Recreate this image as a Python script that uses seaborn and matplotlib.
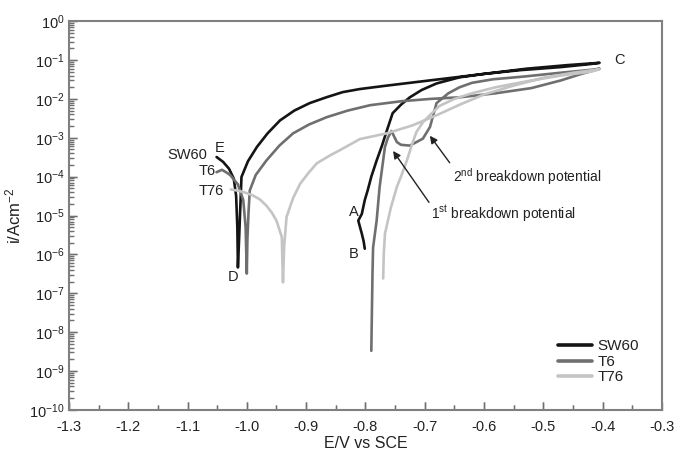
import numpy as np
import pandas as pd
import matplotlib
matplotlib.use("Agg")
import matplotlib.pyplot as plt
import matplotlib.ticker as mticker
from matplotlib.lines import Line2D
from matplotlib.collections import LineCollection
import seaborn as sns

# ---------------- data (E in V vs SCE, i in A/cm^2) ----------------
sw60_E = [-1.051, -1.040, -1.030, -1.022, -1.018, -1.016, -1.015, -1.013, -1.011, -1.009,
          -0.998, -0.983, -0.965, -0.944, -0.920, -0.894, -0.866, -0.838, -0.809, -0.764,
          -0.691, -0.641, -0.580, -0.528, -0.460, -0.405,
          -0.420, -0.470, -0.539, -0.600, -0.641, -0.680, -0.705, -0.725, -0.740, -0.754,
          -0.764, -0.772, -0.781, -0.790, -0.796, -0.801, -0.806, -0.812, -0.809, -0.806,
          -0.803, -0.801]
sw60_i = [3.2e-4, 2.4e-4, 1.6e-4, 8.9e-5, 3.2e-5, 5.0e-6, 4.6e-7, 2.5e-6, 1.6e-5, 9.8e-5,
          2.5e-4, 5.8e-4, 1.3e-3, 2.8e-3, 5.0e-3, 7.8e-3, 1.1e-2, 1.5e-2, 1.8e-2, 2.2e-2,
          3.0e-2, 3.7e-2, 4.8e-2, 6.0e-2, 7.4e-2, 8.5e-2,
          7.9e-2, 6.6e-2, 5.5e-2, 4.4e-2, 3.6e-2, 2.5e-2, 1.7e-2, 1.1e-2, 7.1e-3, 4.3e-3,
          1.5e-3, 6.3e-4, 2.6e-4, 1.0e-4, 4.5e-5, 2.5e-5, 1.1e-5, 7.4e-6, 5.0e-6, 3.4e-6,
          2.2e-6, 1.4e-6]

t6_E = [-1.051, -1.042, -1.035, -1.028, -1.015, -1.006, -1.002, -1.000, -0.999, -0.997,
        -0.995, -0.985, -0.967, -0.945, -0.922, -0.895, -0.865, -0.830, -0.792, -0.740,
        -0.691, -0.641, -0.580, -0.520, -0.470, -0.440, -0.405,
        -0.420, -0.472, -0.530, -0.585, -0.620, -0.641, -0.660, -0.680, -0.691, -0.703,
        -0.725, -0.740, -0.747, -0.756, -0.762, -0.767, -0.776, -0.781, -0.787, -0.788,
        -0.790]
t6_i = [1.3e-4, 1.5e-4, 1.3e-4, 1.1e-4, 6.3e-5, 2.5e-5, 5.0e-6, 3.2e-7, 2.5e-6, 1.3e-5,
        4.4e-5, 1.1e-4, 2.6e-4, 6.3e-4, 1.3e-3, 2.2e-3, 3.4e-3, 5.0e-3, 6.9e-3, 8.7e-3,
        1.0e-2, 1.1e-2, 1.4e-2, 1.9e-2, 3.0e-2, 4.2e-2, 6.0e-2,
        5.6e-2, 4.7e-2, 3.8e-2, 3.2e-2, 2.6e-2, 2.0e-2, 1.4e-2, 7.8e-3, 1.9e-3, 9.5e-4,
        6.3e-4, 6.6e-4, 7.8e-4, 1.5e-3, 1.0e-3, 5.8e-4, 5.4e-5, 7.4e-6, 1.5e-6, 3.2e-7,
        3.3e-9]

t76_E = [-1.027, -1.017, -1.005, -0.990, -0.978, -0.967, -0.958, -0.950, -0.941, -0.939,
         -0.937, -0.933, -0.922, -0.910, -0.895, -0.882, -0.860, -0.843, -0.809, -0.764,
         -0.720, -0.680, -0.641, -0.600, -0.550, -0.500, -0.450, -0.405,
         -0.420, -0.470, -0.530, -0.580, -0.620, -0.650, -0.675, -0.690, -0.703, -0.714,
         -0.722, -0.730, -0.740, -0.747, -0.757, -0.767, -0.769, -0.770]
t76_i = [4.7e-5, 4.4e-5, 4.0e-5, 3.3e-5, 2.6e-5, 1.8e-5, 1.2e-5, 7.4e-6, 2.8e-6, 1.9e-7,
         1.6e-6, 9.1e-6, 2.8e-5, 6.6e-5, 1.3e-4, 2.2e-4, 3.5e-4, 4.8e-4, 9.3e-4, 1.3e-3,
         2.1e-3, 3.8e-3, 7.1e-3, 1.3e-2, 2.2e-2, 3.5e-2, 4.7e-2, 5.8e-2,
         5.0e-2, 4.0e-2, 2.8e-2, 2.0e-2, 1.4e-2, 1.0e-2, 6.6e-3, 4.0e-3, 2.5e-3, 1.4e-3,
         6.3e-4, 2.6e-4, 1.0e-4, 5.4e-5, 1.6e-5, 3.4e-6, 1.0e-6, 2.4e-7]

series_names = ["SW60", "T6", "T76"]
x_ticks = [-1.3, -1.2, -1.1, -1.0, -0.9, -0.8, -0.7, -0.6, -0.5, -0.4, -0.3]
x_tick_labels = ["-1.3", "-1.2", "-1.1", "-1.0", "-0.9", "-0.8", "-0.7", "-0.6", "-0.5", "-0.4", "-0.3"]

# ---------------- build table ----------------
frames = []
for name, E, I in [("SW60", sw60_E, sw60_i), ("T6", t6_E, t6_i), ("T76", t76_E, t76_i)]:
    frames.append(pd.DataFrame({"E": E, "i": I, "series": name, "order": range(len(E))}))
df = pd.concat(frames, ignore_index=True)

sns.set_theme(style="ticks")
plt.rcParams["font.family"] = ["Liberation Sans", "DejaVu Sans"]
plt.rcParams["mathtext.fontset"] = "custom"
plt.rcParams["mathtext.rm"] = "Liberation Sans"
plt.rcParams["mathtext.it"] = "Liberation Sans"

fig = plt.figure(figsize=(6.76, 4.61), dpi=100)
ax = fig.add_axes([0.102, 0.111, 0.877, 0.843])

palette = {"SW60": "#141414", "T6": "#6f6f6f", "T76": "#c4c4c4"}
sns.lineplot(data=df, x="E", y="i", hue="series", hue_order=series_names, palette=palette,
             sort=False, estimator=None, linewidth=1.9, ax=ax, legend=False)

ax.set_yscale("log")
ax.set_xlim(-1.3, -0.3)
ax.set_ylim(1e-10, 1)

ax.set_xticks(x_ticks)
ax.set_xticklabels(x_tick_labels)
ax.xaxis.set_minor_locator(mticker.MultipleLocator(0.05))
ax.yaxis.set_major_locator(mticker.LogLocator(base=10, numticks=20))
ax.yaxis.set_minor_locator(mticker.LogLocator(base=10, subs=np.arange(2, 10), numticks=20))
ax.yaxis.set_minor_formatter(mticker.NullFormatter())

for s in ax.spines.values():
    s.set_visible(True)
    s.set_color("#808080")
    s.set_linewidth(1.5)

ax.set_xlabel("E/V vs SCE", fontsize=11.5, color="#222222", labelpad=2)
ax.set_ylabel("i/Acm$^{-2}$", fontsize=12, color="#222222", labelpad=4)
ax.grid(False)

ax.tick_params(axis="both", which="major", direction="in", length=6, width=1.0,
               color="#707070", labelsize=10.5, labelcolor="#222222",
               bottom=True, left=True, top=False, right=False)
ax.tick_params(axis="both", which="minor", direction="in", length=3.5, width=0.9,
               color="#707070", bottom=True, left=True, top=False, right=False)
ax.tick_params(axis="x", which="major", pad=7)
ax.tick_params(axis="y", which="major", pad=3)

# inward tick strokes taken from the axis locators (drawn as segments so they always show)
ax_w_px = 0.877 * 676
ax_h_px = 0.843 * 461
def _inside(vals, lo, hi):
    return [v for v in vals if lo - 1e-12 <= v <= hi + 1e-12]
xmaj = _inside(ax.xaxis.get_majorticklocs(), -1.3, -0.3)
xmin = _inside(ax.xaxis.get_minorticklocs(), -1.3, -0.3)
ymaj = _inside(ax.yaxis.get_majorticklocs(), 1e-10, 1)
ymin = _inside(ax.yaxis.get_minorticklocs(), 1e-10, 1)
seg_x = [[(v, 0), (v, 8 / ax_h_px)] for v in xmaj] + [[(v, 0), (v, 4.5 / ax_h_px)] for v in xmin]
seg_y = [[(0, v), (8 / ax_w_px, v)] for v in ymaj] + [[(0, v), (4.5 / ax_w_px, v)] for v in ymin]
ax.add_collection(LineCollection(seg_x, colors="#707070", linewidths=1.0,
                                 transform=ax.get_xaxis_transform(), zorder=2.5))
ax.add_collection(LineCollection(seg_y, colors="#707070", linewidths=0.9,
                                 transform=ax.get_yaxis_transform(), zorder=2.5))
ax.set_xlim(-1.3, -0.3)
ax.set_ylim(1e-10, 1)

# ---------------- annotations ----------------
tc = "#222222"
ax.text(-1.066, 10**-3.45, "SW60", ha="right", va="center", fontsize=10.5, color=tc)
ax.text(-1.046, 10**-3.25, "E", ha="center", va="center", fontsize=10.5, color=tc)
ax.text(-1.052, 10**-3.86, "T6", ha="right", va="center", fontsize=10.5, color=tc)
ax.text(-1.039, 10**-4.37, "T76", ha="right", va="center", fontsize=10.5, color=tc)
ax.text(-1.023, 10**-6.59, "D", ha="center", va="center", fontsize=10.5, color=tc)
ax.text(-0.819, 10**-4.91, "A", ha="center", va="center", fontsize=10.5, color=tc)
ax.text(-0.819, 10**-5.99, "B", ha="center", va="center", fontsize=10.5, color=tc)
ax.text(-0.371, 10**-1.0, "C", ha="center", va="center", fontsize=10.5, color=tc)

ax.annotate("", xy=(-0.694, 10**-2.89), xytext=(-0.655, 10**-3.70),
            arrowprops=dict(arrowstyle="-|>", color="#222222", lw=1.0, mutation_scale=11))
ax.text(-0.652, 10**-4.0, r"2$^{\mathrm{nd}}$ breakdown potential", ha="left", va="center",
        fontsize=10, color=tc)
ax.annotate("", xy=(-0.756, 10**-3.28), xytext=(-0.690, 10**-4.72),
            arrowprops=dict(arrowstyle="-|>", color="#222222", lw=1.0, mutation_scale=11))
ax.text(-0.690, 10**-4.95, r"1$^{\mathrm{st}}$ breakdown potential", ha="left", va="center",
        fontsize=10, color=tc)

# legend
handles = [Line2D([0], [0], color=palette[n], lw=2.6) for n in series_names]
leg = ax.legend(handles, series_names, loc="lower right", frameon=False, fontsize=11,
                handlelength=2.2, handletextpad=0.4, labelspacing=0.1,
                bbox_to_anchor=(0.985, 0.03))
for t in leg.get_texts():
    t.set_color(tc)

fig.savefig("out.png", dpi=100)
